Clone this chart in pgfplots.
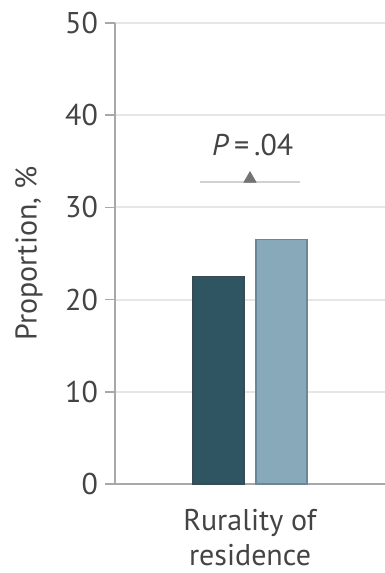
\documentclass[border=0pt]{standalone}
\usepackage{pgfplots}
\pgfplotsset{compat=1.18}
\usepackage{fontspec}
\setmainfont{PT Sans}
\definecolor{darkbar}{HTML}{2F5563}
\definecolor{darkedge}{HTML}{3A4A52}
\definecolor{lightbar}{HTML}{87A9B9}
\definecolor{lightedge}{HTML}{6B8694}
\definecolor{gridc}{HTML}{E6E6E6}
\definecolor{axisc}{HTML}{A8A8A8}
\definecolor{txt}{HTML}{444444}
\begin{document}
\begin{tikzpicture}
\begin{axis}[
  at={(0,0)}, anchor=south west,
  scale only axis,
  width=135pt, height=230.5pt,
  xmin=-1, xmax=1,
  ymin=0, ymax=50,
  enlargelimits=false,
  axis lines=left,
  axis line style={-, draw=axisc, line width=1pt},
  ybar=6pt, bar width=25.5pt,
  xtick={0},
  xticklabels={Rurality of\\residence},
  xtick style={draw=none},
  xticklabel style={align=center, text=txt, yshift=-4pt, font=\fontsize{15}{17.5}\selectfont},
  ytick={0,10,...,50},
  ytick style={draw=axisc, line width=0.8pt},
  tick align=outside,
  major tick length=5pt,
  ymajorgrids,
  grid style={draw=gridc, line width=1pt},
  yticklabel style={text=txt},
  /pgf/number format/assume math mode=true,
  ylabel={Proportion, \%},
  ylabel style={at={(axis description cs:-0.3185,0.5)}, anchor=center, text=txt},
  font=\fontsize{15}{16.5}\selectfont,
  clip=false,
]
\addplot[fill=darkbar, draw=darkedge, line width=0.8pt] coordinates {(0,22.5)};
\addplot[fill=lightbar, draw=lightedge, line width=0.8pt] coordinates {(0,26.5)};
% significance bracket
\addplot[ybar=0pt, sharp plot, draw=gridc!80!gray, line width=1pt, forget plot] coordinates {(-0.37,32.75) (0.37,32.75)};
\addplot[only marks, mark=triangle*, mark size=3.5pt, color=black!55, forget plot] coordinates {(0.0,33.1)};
\node[text=txt, font=\fontsize{15}{16.5}\selectfont] at (axis cs:0.02,36.8) {\textit{P}\,=\,.04};
\end{axis}
\pgfresetboundingbox
\path[use as bounding box] (-57.5pt,-44.5pt) rectangle (135pt,242pt);
\end{tikzpicture}
\end{document}
